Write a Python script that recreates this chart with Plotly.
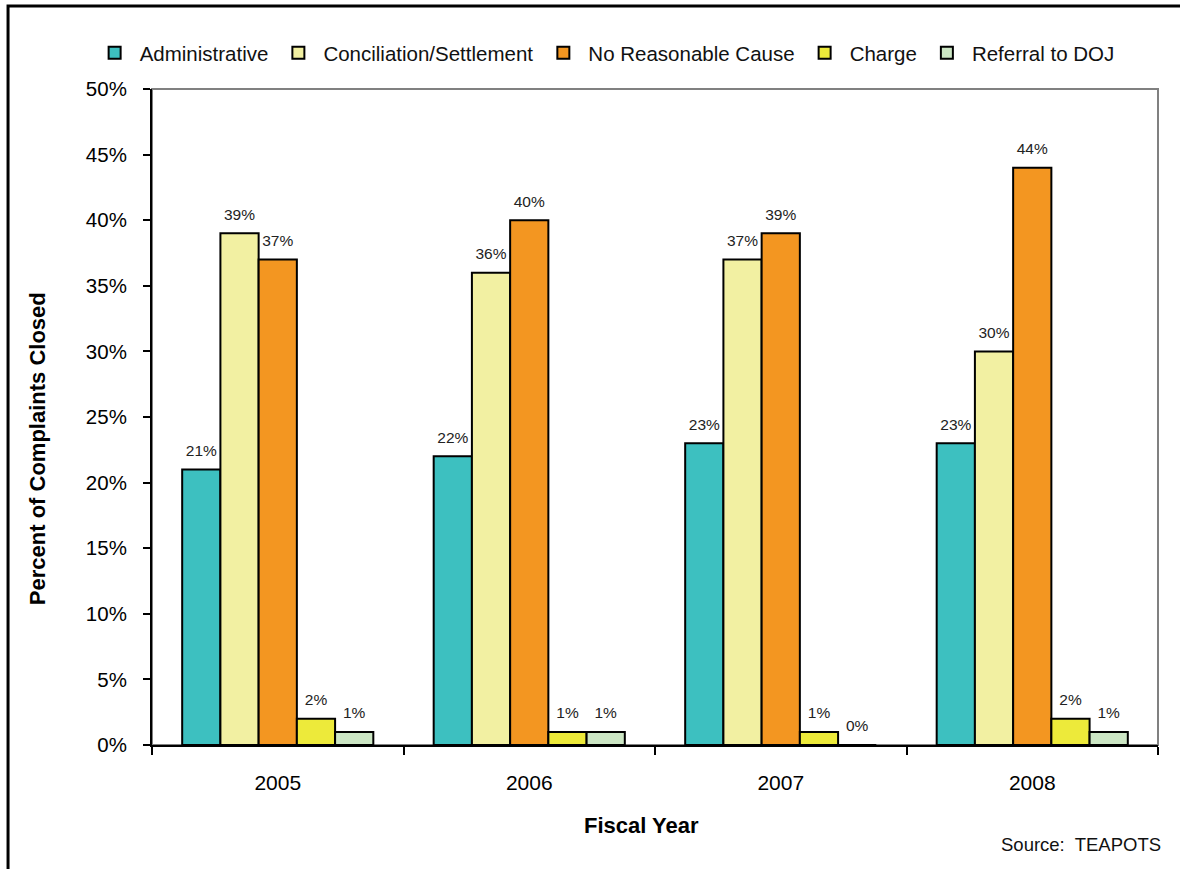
import plotly.graph_objects as go

# Fiscal years and closure outcomes (percent of complaints closed)
years = ["2005", "2006", "2007", "2008"]
administrative = [21, 22, 23, 23]
conciliation = [39, 36, 37, 30]
no_reasonable_cause = [37, 40, 39, 44]
charge = [2, 1, 1, 2]
referral_doj = [1, 1, 0, 1]

series = [
    ("Administrative", administrative, "#3DC0C0"),
    ("Conciliation/Settlement", conciliation, "#F2F0A2"),
    ("No Reasonable Cause", no_reasonable_cause, "#F39621"),
    ("Charge", charge, "#EDEA3A"),
    ("Referral to DOJ", referral_doj, "#CCE6C4"),
]

y_ticks = list(range(0, 51, 5))
y_tick_labels = [f"{v}%" for v in y_ticks]

FONT = "Liberation Sans, Arial, sans-serif"
GAP = 0.24

fig = go.Figure()
for name, vals, color in series:
    fig.add_trace(go.Bar(
        name=name,
        x=years,
        y=vals,
        marker=dict(color=color, line=dict(color="black", width=2)),
        hovertemplate="%{x}: %{y}%<extra>" + name + "</extra>",
    ))

# value labels, grouped the same way as the bars and lifted a little above them
for name, vals, color in series:
    fig.add_trace(go.Scatter(
        x=years,
        y=vals,
        mode="markers+text",
        marker=dict(size=14, opacity=0),
        text=[f"{v}%" for v in vals],
        textposition="top center",
        textfont=dict(family=FONT, size=15.5, color="#222222"),
        cliponaxis=False,
        showlegend=False,
        hoverinfo="skip",
    ))

fig.update_layout(
    width=1180,
    height=869,
    margin=dict(l=152, r=22, t=89, b=124),
    paper_bgcolor="white",
    plot_bgcolor="white",
    barmode="group",
    bargap=GAP,
    bargroupgap=0,
    scattermode="group",
    scattergap=GAP,
    font=dict(family=FONT, color="black"),
    legend=dict(
        orientation="h",
        x=-0.062,
        y=1.055,
        xanchor="left",
        yanchor="middle",
        font=dict(family=FONT, size=20.5, color="#111111"),
        itemwidth=40,
        bgcolor="rgba(0,0,0,0)",
    ),
    xaxis=dict(
        type="category",
        showline=True,
        linecolor="black",
        linewidth=2,
        ticks="outside",
        tickson="boundaries",
        ticklen=8,
        tickwidth=2,
        tickcolor="black",
        ticklabelstandoff=18,
        tickfont=dict(family=FONT, size=21, color="black"),
        showgrid=False,
        zeroline=False,
    ),
    yaxis=dict(
        range=[0, 50],
        tickvals=y_ticks,
        ticktext=y_tick_labels,
        showline=True,
        linecolor="black",
        linewidth=2,
        ticks="outside",
        ticklen=7,
        tickwidth=2,
        tickcolor="black",
        ticklabelstandoff=12,
        tickfont=dict(family=FONT, size=20.5, color="black"),
        showgrid=False,
        zeroline=False,
    ),
    shapes=[
        # gray frame around the plotting area
        dict(type="rect", xref="paper", yref="paper", x0=0, y0=0, x1=1, y1=1,
             line=dict(color="#808080", width=2), layer="below"),
        # outer chart border
        dict(type="rect", xref="paper", yref="paper", x0=-0.1431, y0=-0.6,
             x1=1.2, y1=1.1265, line=dict(color="black", width=3), layer="below"),
    ],
    annotations=[
        dict(text="<b>Percent of Complaints Closed</b>", xref="paper", yref="paper",
             x=-0.1143, y=0.451, textangle=-90, showarrow=False,
             xanchor="center", yanchor="middle",
             font=dict(family=FONT, size=22, color="black")),
        dict(text="<b>Fiscal Year</b>", xref="paper", yref="paper",
             x=0.487, y=-0.122, showarrow=False,
             xanchor="center", yanchor="middle",
             font=dict(family=FONT, size=22, color="black")),
        dict(text="Source:  TEAPOTS", xref="paper", yref="paper",
             x=1.005, y=-0.152, showarrow=False,
             xanchor="right", yanchor="middle",
             font=dict(family=FONT, size=18.5, color="#111111")),
    ],
)

fig.write_html("out.html")
